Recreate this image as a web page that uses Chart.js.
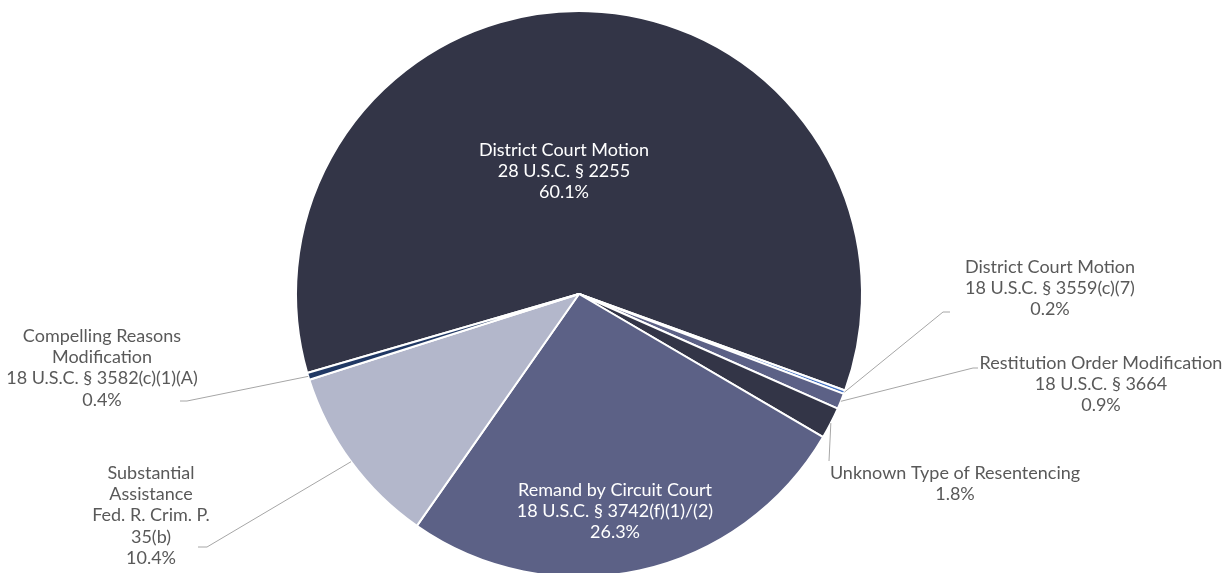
<!DOCTYPE html>
<html>
<head>
<meta charset="utf-8">
<script src="https://cdn.jsdelivr.net/npm/chart.js@4/dist/chart.umd.min.js"></script>
<style>
  html, body { margin: 0; padding: 0; background: #fff; overflow: hidden; }
  #wrap { position: absolute; left: 0; top: 0; width: 1225px; height: 592px; }
</style>
</head>
<body>
<div id="wrap"><canvas id="myChart"></canvas></div>
<script>
// categories (each label split into its lines)
const categorias = [
  ['District Court Motion', '28 U.S.C. § 2255'],
  ['District Court Motion', '18 U.S.C. § 3559(c)(7)'],
  ['Restitution Order Modification', '18 U.S.C. § 3664'],
  ['Unknown Type of Resentencing'],
  ['Remand by Circuit Court', '18 U.S.C. § 3742(f)(1)/(2)'],
  ['Substantial', 'Assistance', 'Fed. R. Crim. P.', '35(b)'],
  ['Compelling Reasons', 'Modification', '18 U.S.C. § 3582(c)(1)(A)']
];
// percentages
const valores = [60.1, 0.2, 0.9, 1.8, 26.3, 10.4, 0.4];
const colores = ['#333547', '#4472c4', '#5c6186', '#333547', '#5c6186', '#b3b7cb', '#203864'];

// where each label sits (text centre x, first line y) and its leader line (null = inside)
const etiquetas = [
  { x: 564, y: 150, color: '#ffffff', linea: null },
  { x: 1050, y: 267, color: '#595959', linea: [[943, 312], [950, 312]] },
  { x: 1101, y: 363, color: '#595959', linea: [[973, 368], [978, 368]] },
  { x: 955, y: 473, color: '#595959', linea: [[829, 461]] },
  { x: 615, y: 490, color: '#ffffff', linea: null },
  { x: 151, y: 473, color: '#595959', linea: [[207, 547], [198, 547]] },
  { x: 102, y: 336, color: '#595959', linea: [[187, 401], [180, 401]] }
];
const altoLinea = 21.3;

const pluginEtiquetas = {
  id: 'etiquetas',
  afterDatasetsDraw(chart) {
    const ctx = chart.ctx;
    const meta = chart.getDatasetMeta(0);
    ctx.save();
    ctx.font = '18px Lato';
    ctx.textAlign = 'center';
    ctx.textBaseline = 'middle';
    meta.data.forEach((arc, i) => {
      const e = etiquetas[i];
      if (e.linea) {
        const p = arc.getProps(['x', 'y', 'startAngle', 'endAngle', 'outerRadius'], true);
        const a = (p.startAngle + p.endAngle) / 2;
        ctx.beginPath();
        ctx.strokeStyle = '#a6a6a6';
        ctx.lineWidth = 1;
        ctx.moveTo(p.x + Math.cos(a) * p.outerRadius, p.y + Math.sin(a) * p.outerRadius);
        e.linea.forEach(pt => ctx.lineTo(pt[0], pt[1]));
        ctx.stroke();
      }
      ctx.fillStyle = e.color;
      const lineas = categorias[i].concat([valores[i].toFixed(1) + '%']);
      lineas.forEach((t, k) => ctx.fillText(t, e.x, e.y + k * altoLinea));
    });
    ctx.restore();
  }
};

const ctx = document.getElementById('myChart').getContext('2d');
const chart = new Chart(ctx, {
  type: 'pie',
  data: {
    labels: categorias.map(c => c.join(' ')),
    datasets: [{
      data: valores,
      backgroundColor: colores,
      borderColor: '#ffffff',
      borderWidth: 2
    }]
  },
  options: {
    responsive: true,
    maintainAspectRatio: false,
    animation: false,
    rotation: -106.2,
    layout: { padding: { top: 10, bottom: 14, left: 0, right: 67 } },
    plugins: {
      legend: { display: false },
      tooltip: { enabled: false }
    }
  },
  plugins: [pluginEtiquetas]
});
</script>
</body>
</html>
